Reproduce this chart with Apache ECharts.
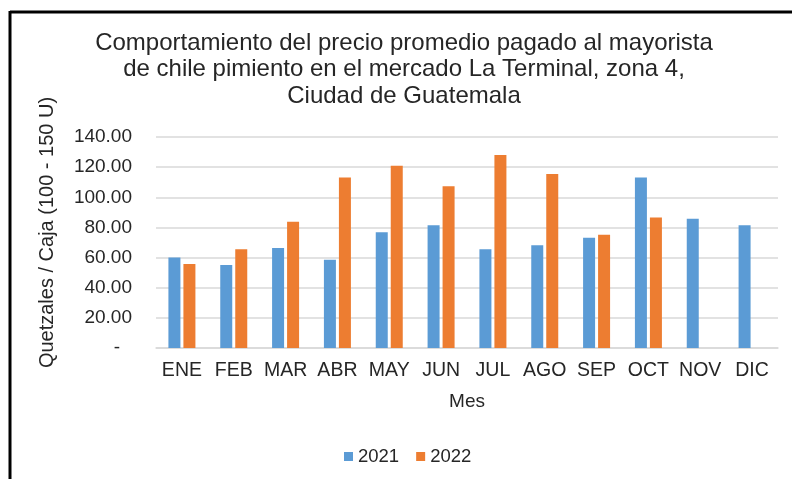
<!DOCTYPE html>
<html>
<head>
<meta charset="utf-8">
<script src="https://cdn.jsdelivr.net/npm/echarts@6/dist/echarts.min.js"></script>
<style>
  html, body { margin: 0; padding: 0; background: #ffffff; }
  #chart { width: 792px; height: 479px; }
</style>
</head>
<body>
<div id="chart"></div>
<script>
// Monthly average wholesale price of bell pepper (Q per box), La Terminal market
const months = ['ENE', 'FEB', 'MAR', 'ABR', 'MAY', 'JUN', 'JUL', 'AGO', 'SEP', 'OCT', 'NOV', 'DIC'];
const price2021 = [60.0, 55.0, 66.4, 58.6, 76.8, 81.5, 65.5, 68.2, 73.2, 113.2, 85.7, 81.5];
const price2022 = [55.7, 65.5, 83.7, 113.2, 121.0, 107.4, 128.1, 115.4, 75.2, 86.6, null, null];
const seriesNames = ['2021', '2022'];
const yTicks = { min: 0, max: 140, step: 20 };

const FONT = '"Liberation Sans", Arial, sans-serif';
const TEXT = '#262626';

const chart = echarts.init(document.getElementById('chart'), null, { renderer: 'canvas' });

chart.setOption({
  backgroundColor: '#ffffff',
  animation: false,
  title: {
    text: 'Comportamiento del precio promedio pagado al mayorista\nde chile pimiento en el mercado La Terminal, zona 4,\nCiudad de Guatemala',
    left: 404,
    top: 30,
    padding: 0,
    textAlign: 'center',
    textStyle: {
      fontFamily: FONT,
      fontSize: 24,
      fontWeight: 'normal',
      color: TEXT,
      lineHeight: 26.5
    }
  },
  legend: {
    data: seriesNames,
    left: 344,
    top: 447,
    padding: 0,
    itemWidth: 9,
    itemHeight: 9,
    itemGap: 17,
    icon: 'rect',
    textStyle: { fontFamily: FONT, fontSize: 18.5, color: TEXT }
  },
  grid: { left: 156, right: 14, top: 137, bottom: 131, containLabel: false },
  xAxis: {
    type: 'category',
    data: months,
    name: 'Mes',
    nameLocation: 'middle',
    nameGap: 44,
    nameTextStyle: { fontFamily: FONT, fontSize: 19, color: TEXT },
    axisLine: { lineStyle: { color: '#d9d9d9', width: 1.5 } },
    axisTick: { show: false },
    axisLabel: { interval: 0, fontFamily: FONT, fontSize: 19.5, color: TEXT, margin: 13 }
  },
  yAxis: {
    type: 'value',
    min: yTicks.min,
    max: yTicks.max,
    interval: yTicks.step,
    name: 'Quetzales / Caja (100 - 150 U)',
    nameLocation: 'middle',
    nameGap: 99,
    nameTextStyle: { fontFamily: FONT, fontSize: 20, color: TEXT, padding: [0, 0, 0, 20] },
    axisLine: { show: false },
    axisTick: { show: false },
    splitLine: { lineStyle: { color: '#d9d9d9', width: 1.5 } },
    axisLabel: {
      fontFamily: FONT,
      fontSize: 19,
      color: TEXT,
      margin: 24,
      formatter: v => v === 0 ? '{dash|-}' : v.toFixed(2),
      rich: { dash: { fontFamily: FONT, fontSize: 19, color: TEXT, padding: [0, 12, 0, 0] } }
    }
  },
  series: [
    {
      name: seriesNames[0],
      type: 'bar',
      data: price2021,
      barWidth: 12,
      barGap: '25%',
      itemStyle: { color: '#5b9bd5' }
    },
    {
      name: seriesNames[1],
      type: 'bar',
      data: price2022,
      barWidth: 12,
      barGap: '25%',
      itemStyle: { color: '#ed7d31' }
    }
  ],
  graphic: [
    // Frame of the chart area: top and left edges
    { type: 'line', shape: { x1: 10, y1: 12, x2: 792, y2: 12 }, style: { stroke: '#000000', lineWidth: 3 } },
    { type: 'line', shape: { x1: 10, y1: 11, x2: 10, y2: 479 }, style: { stroke: '#000000', lineWidth: 3 } }
  ]
});
</script>
</body>
</html>
